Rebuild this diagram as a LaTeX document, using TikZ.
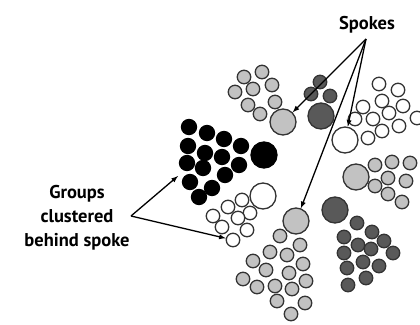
\documentclass[tikz,border=0pt]{standalone}
\usepackage{fontspec}
\setmainfont{PT Sans}
\usetikzlibrary{arrows,positioning}

\begin{document}
\begin{tikzpicture}[x=1pt,y=-1pt]
\tikzstyle{ball}=[circle,draw=black!80,line width=1.3pt,minimum size=13.5pt,inner sep=0pt]
\tikzstyle{spoke}=[ball,minimum size=26pt]
\tikzstyle{pale}=[fill=black!24]
\tikzstyle{dark}=[fill=black!65]
\tikzstyle{hollow}=[fill=white]
\tikzstyle{blk}=[fill=black,draw=black,minimum size=15pt]
\tikzstyle{pointer}=[-latex,line width=1.3pt]
\tikzstyle{caption}=[font=\bfseries\fontsize{18.5}{24}\selectfont,align=center,inner sep=0pt]

\useasboundingbox (0,0) rectangle (420,324);

% top left, pale
\foreach \x/\y [count=\i] in {244/77,262/72,272/85,253/89,235/92,275/102,248/105,260/114}
  \node[ball,pale] (a\i) at (\x,\y) {};
\node[spoke,pale] (sa) at (283,122) {};

% top, dark
\foreach \x/\y [count=\i] in {320/82,311/94,330/96}
  \node[ball,dark] (b\i) at (\x,\y) {};
\node[spoke,dark] (sb) at (321,116) {};

% top right, white
\foreach \x/\y [count=\i] in {379/84,398/90,382/101,363/107,403/106,389/113,355/119,373/119,417/118,382/131,399/126,368/138}
  \node[ball,hollow] (c\i) at (\x,\y) {};
\node[spoke,hollow] (sc) at (345,140) {};

% right, pale
\foreach \x/\y [count=\i] in {375/165,392/162,410/163,388/178,406/181,375/186,388/194,402/202}
  \node[ball,pale] (d\i) at (\x,\y) {};
\node[spoke,pale] (sd) at (356,177) {};

% bottom right, dark
\foreach \x/\y [count=\i] in {357/223,372/232,344/237,358/245,384/241,371/249,344/253,393/253,363/262,379/266,347/268,366/278,348/285}
  \node[ball,dark] (e\i) at (\x,\y) {};
\node[spoke,dark] (se) at (335,210) {};

% bottom, pale
\foreach \x/\y [count=\i] in {280/236,300/245,270/252,287/255,303/264,253/261,266/270,289/273,306/281,243/279,257/287,275/286,292/289,277/301,305/303,291/314}
  \node[ball,pale] (f\i) at (\x,\y) {};
\node[spoke,pale] (sf) at (296,221) {};

% left, black
\foreach \x/\y [count=\i] in {189/127,207/133,224/139,241/146,188/146,205/153,222/157,187/163,203/168,239/165,225/175,190/182,212/188,199/197}
  \node[ball,blk] (g\i) at (\x,\y) {};
\node[spoke,blk,minimum size=26pt] (sg) at (264,155) {};

% lower left, white
\foreach \x/\y [count=\i] in {242/200,228/207,250/213,213/216,238/218,222/227,247/230,233/240}
  \node[ball,hollow] (h\i) at (\x,\y) {};
\node[spoke,hollow] (sh) at (263,196) {};

% labels
\node[caption] (spokes) at (367,25) {Spokes};
\node[caption] (groups) at (77,218) {Groups\\clustered\\behind spoke};

\coordinate (sv) at (366,39);
\coordinate (gv) at (131,216);
\coordinate (gt) at (178,176);

\draw[pointer] (sv) -- (sa);
\draw[pointer] (sv) -- (sc);
\draw[pointer] (sv) -- (sf);
\draw[pointer] (gv) -- (gt);
\draw[pointer] (gv) -- (h8);
\end{tikzpicture}
\end{document}
